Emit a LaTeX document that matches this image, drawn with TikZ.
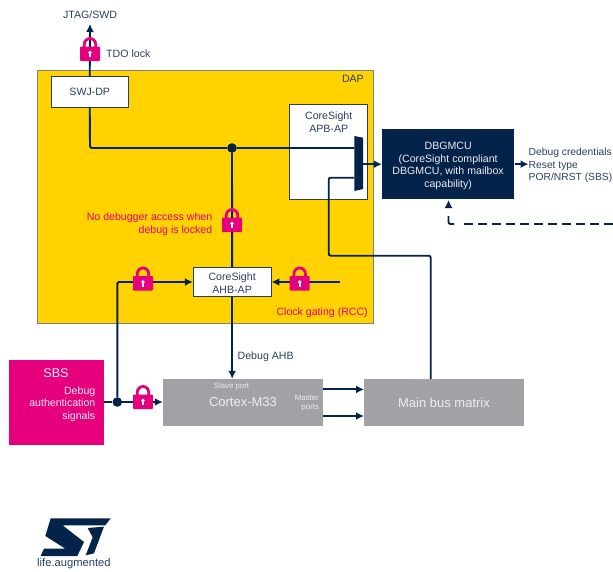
\documentclass[tikz,border=0pt]{standalone}
\usepackage{fontspec}
\setmainfont{Liberation Sans}
\usetikzlibrary{arrows.meta}
\definecolor{navy}{HTML}{03234B}
\definecolor{stink}{HTML}{2A3F5F}
\definecolor{dapyellow}{HTML}{FFD200}
\definecolor{stpink}{HTML}{E6007E}
\definecolor{cpugrey}{HTML}{A2A1A6}
\definecolor{dapedge}{HTML}{7F8180}
\definecolor{softwhite}{HTML}{EDEDEE}
\newcommand{\fsize}[2]{\fontsize{#1}{#2}\selectfont}
\tikzset{
  link/.style={draw=navy,line width=1.9pt},
  arr/.style={link,-{Latex[length=8pt,width=8pt]}},
  whitebox/.style={draw=stink,line width=0.9pt,fill=white,text=stink,inner sep=0pt,align=center,font=\fsize{10.6}{12.6}},
  greybox/.style={fill=cpugrey,inner sep=0pt,text=softwhite},
  txt/.style={text=stink,inner sep=0pt,font=\fsize{10.6}{12.5}},
  alert/.style={text=stpink,inner sep=0pt,font=\fsize{10.6}{13},align=right},
  dot/.style={circle,fill=navy,inner sep=0pt,minimum size=9.6pt},
  lock/.pic={
    \draw[stpink,line width=2.8pt] (-5.7,9) -- (-5.7,-2.3) arc[start angle=180,end angle=0,x radius=5.7,y radius=-5.7] -- (5.7,9);
    \fill[stpink,rounded corners=0.8pt] (-10,0) rectangle (10,14.5);
    \fill[white] (0,6) circle (1.9);
    \fill[white] (-0.8,6) rectangle (0.8,10.5);
  }
}
\begin{document}
\begin{tikzpicture}[x=1pt,y=-1pt]
\useasboundingbox (0,0) rectangle (613,571);
% containers
\node[draw=dapedge,line width=0.9pt,fill=dapyellow,minimum width=336pt,minimum height=253pt,inner sep=0pt] (dap) at (205,196.5) {};
\node[text=stink,inner sep=0pt,font=\fsize{10.6}{12},anchor=north east] (daplabel) at (364,75.5) {DAP};
\node[whitebox,minimum width=77.5pt,minimum height=30.5pt] (swj) at (89.75,91.75) {SWJ-DP};
\node[whitebox,minimum width=78pt,minimum height=95.6pt,anchor=north] (apb) at (328.7,103.7) {};
\node[text=stink,inner sep=0pt,align=center,font=\fsize{10.6}{12.6},anchor=north] (apblabel) at (328.7,112) {CoreSight\\APB-AP};
\node[whitebox,minimum width=77.7pt,minimum height=29.4pt] (ahb) at (232.15,282) {};
\node[text=stink,inner sep=0pt,align=center,font=\fsize{10.6}{12.6}] (ahblabel) at (232.15,283) {CoreSight\\AHB-AP};
\node[fill=navy,minimum width=132.3pt,minimum height=70.3pt,inner sep=0pt] (dbg) at (448.15,164.15) {};
\node[text=softwhite,inner sep=0pt,align=center,font=\fsize{10.6}{12.6}] (dbglabel) at (448.15,166) {DBGMCU\\(CoreSight compliant\\DBGMCU, with mailbox\\capability)};
\node[fill=stpink,minimum width=95pt,minimum height=85pt,inner sep=0pt] (sbs) at (56.5,402.5) {};
\node[text=softwhite,inner sep=0pt,font=\fsize{12.7}{14},anchor=north] (sbstitle) at (56,368) {SBS};
\node[text=softwhite,inner sep=0pt,align=right,font=\fsize{10.6}{12.4},anchor=north east] (sbstext) at (95.5,386.5) {Debug\\authentication\\signals};
\node[greybox,minimum width=160pt,minimum height=46.7pt,font=\fsize{13}{15}] (cpu) at (243,402.35) {\raisebox{-1pt}{Cortex-M33}};
\node[greybox,minimum width=160pt,minimum height=46.7pt,font=\fsize{13}{15}] (matrix) at (444,402.35) {\raisebox{-1pt}{Main bus matrix}};
\node[text=softwhite,inner sep=0pt,font=\fsize{7.8}{9},anchor=center] (slave) at (231.5,386) {Slave port};
\node[text=softwhite,inner sep=0pt,align=right,font=\fsize{7.8}{9.5},anchor=east] (master) at (319,403) {Master\\ports};
% mux
\path[fill=navy] (354.3,136) -- (363,137.7) -- (363,189) -- (354.3,191) -- cycle;
\coordinate (muxin) at (354.3,148);
\coordinate (muxbus) at (354.3,177.7);
\coordinate (muxout) at (363,164.2);
% labels
\node[txt] (jtag) at (90,14.5) {JTAG/SWD};
\coordinate (jtagend) at (90,24);
\node[txt,anchor=west] (tdo) at (106,54) {TDO lock};
\node[txt,anchor=west] (ahbl) at (237.5,356.5) {Debug AHB};
\node[txt,anchor=west,align=left,font=\fsize{10.3}{12.4}] (out) at (528.5,165.5) {Debug credentials\\Reset type\\POR/NRST (SBS)};
\node[alert,anchor=east] (nodbg) at (212.5,224) {No debugger access when\\debug is locked};
\node[text=stpink,inner sep=0pt,font=\fsize{10.6}{12},anchor=east] (clk) at (368,312.5) {Clock gating (RCC)};
% connectors
\coordinate (corner1) at (90,148);
\node[dot] (j1) at (232,148) {};
\node[dot] (j2) at (117.3,402) {};
\coordinate (rccstart) at (340,282);
\coordinate (dashstart) at (613,224);
\coordinate (dashend) at (460,224);
\draw[arr] (swj.north) -- (jtagend);
\draw[link,rounded corners=1.5pt] (swj.south) -- (corner1) -- (j1) -- (muxin);
\draw[link] (j1) -- (ahb.north);
\draw[arr] (ahb.south) -- (ahb.south |- cpu.north);
\draw[arr,rounded corners=1.5pt] (j2) |- (ahb.west);
\draw[arr] (rccstart) -- (ahb.east);
\draw[link] (sbs.east |- j2) -- (j2);
\draw[arr] (j2) -- (cpu.west |- j2);
\draw[arr] (muxout) -- (dbg.west |- muxout);
\draw[arr] (dbg.east) -- (out.west |- dbg.east);
\draw[link,rounded corners=2pt] (matrix.north -| 430.7,0) -- (430.7,255.7) -- (328.7,255.7) -- (328.7,177.7) -- (muxbus);
\draw[arr] (323,389.4) -- (364,389.4);
\draw[arr] (323,416) -- (364,416);
\draw[link,dash pattern=on 9pt off 5pt] (dashstart) -- (dashend);
\draw[link,rounded corners=2pt] (454,224) -- (448.5,224) -- (448.5,216);
\draw[arr] (448.5,208) -- (448.5,200);
% locks
\pic at (90,46.5) {lock};
\pic at (232,217.5) {lock};
\pic at (143,276) {lock};
\pic at (299.7,276) {lock};
\pic at (143,394.5) {lock};
% logo
\begin{scope}[shift={(20,500)},x=0.3333pt,y=-0.3333pt]
\fill[navy] (92,55) -- (272,55) -- (256,76) -- (128,76) -- (192,126) -- (172,168) -- (62,168) -- (72,146) -- (136,146) -- (76,108) -- cycle;
\fill[navy] (203,84) -- (252,80) -- (222,160) -- (197,166) -- (218,112) -- cycle;
\end{scope}
\node[text=stink,inner sep=0pt,font=\fsize{11.2}{12},anchor=west] (life) at (37,564) {life.augmented};
\end{tikzpicture}
\end{document}
